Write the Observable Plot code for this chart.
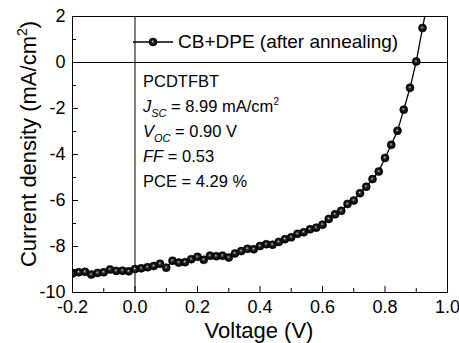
<!DOCTYPE html>
<html><head><meta charset="utf-8">
<script src="https://cdn.jsdelivr.net/npm/d3@7"></script>
<script src="https://cdn.jsdelivr.net/npm/@observablehq/plot@0.6"></script>
<style>body{margin:0;background:#fff;} svg{display:block;}</style>
</head><body><div id="chart"></div>
<script>
const voltage = [-0.20,-0.18,-0.16,-0.14,-0.12,-0.10,-0.08,-0.06,-0.04,-0.02,
  0.00,0.02,0.04,0.06,0.08,0.10,0.12,0.14,0.16,0.18,
  0.20,0.22,0.24,0.26,0.28,0.30,0.32,0.34,0.36,0.38,
  0.40,0.42,0.44,0.46,0.48,0.50,0.52,0.54,0.56,0.58,
  0.60,0.62,0.64,0.66,0.68,0.70,0.72,0.74,0.76,0.78,
  0.80,0.82,0.84,0.86,0.88,0.90,0.92,0.94];
const current = [-9.17,-9.12,-9.10,-9.22,-9.15,-9.12,-9.00,-9.06,-9.05,-9.08,
  -8.98,-8.95,-8.90,-8.85,-8.75,-8.92,-8.62,-8.70,-8.68,-8.55,
  -8.45,-8.58,-8.40,-8.42,-8.40,-8.48,-8.30,-8.20,-8.10,-8.12,
  -7.98,-7.90,-7.92,-7.80,-7.68,-7.60,-7.45,-7.38,-7.25,-7.18,
  -7.05,-6.80,-6.60,-6.45,-6.15,-6.00,-5.68,-5.40,-5.07,-4.74,
  -4.15,-3.58,-2.97,-2.05,-1.10,0.04,1.50,2.90];
const xMajor = [-0.2,0.0,0.2,0.4,0.6,0.8,1.0];
const xMinor = [-0.1,0.1,0.3,0.5,0.7,0.9];
const yMajor = [-10,-8,-6,-4,-2,0,2];
const yMinor = [-9,-7,-5,-3,-1,1];
const seriesName = "CB+DPE (after annealing)";
const material = "PCDTFBT";
const jsc = "8.99", voc = "0.90", ff = "0.53", pce = "4.29";

const data = voltage.map((v, i) => ({v, j: current[i]}));
const font = "'Liberation Sans', Arial, Helvetica, sans-serif";

const plot = Plot.plot({
  width: 459, height: 343,
  marginLeft: 72, marginRight: 12, marginTop: 16, marginBottom: 51,
  style: {fontFamily: font, background: "#fff", color: "#000"},
  x: {domain: [-0.2, 1.0], label: null},
  y: {domain: [-10, 2], label: null},
  marks: [
    Plot.ruleX([0], {stroke: "#000", strokeWidth: 1}),
    Plot.ruleY([0], {stroke: "#000", strokeWidth: 1}),
    Plot.ruleX(xMajor, {x: d => d, y1: -10, y2: -10, insetTop: -6, stroke: "#000"}),
    Plot.ruleX(xMinor, {x: d => d, y1: -10, y2: -10, insetTop: -4, stroke: "#000"}),
    Plot.ruleY(yMajor, {y: d => d, x1: -0.2, x2: -0.2, insetRight: -6, stroke: "#000"}),
    Plot.ruleY(yMinor, {y: d => d, x1: -0.2, x2: -0.2, insetRight: -4, stroke: "#000"}),
    Plot.axisX({ticks: xMajor, tickSize: 0, tickPadding: 8, fontSize: 18, tickFormat: d => d.toFixed(1), label: null}),
    Plot.axisY({ticks: yMajor, tickSize: 0, tickPadding: 7, fontSize: 18, tickFormat: d => String(d), label: null}),
    Plot.line(data, {x: "v", y: "j", stroke: "#000", strokeWidth: 1.3, clip: true}),
    Plot.dot(data, {x: "v", y: "j", r: 4, fill: "url(#ball)", stroke: "#000", strokeWidth: 0.6, clip: true}),
    Plot.frame({stroke: "#000", strokeWidth: 1})
  ]
});
document.getElementById("chart").appendChild(plot);

const svg = d3.select(plot);
const defs = svg.insert("defs", ":first-child");
const g = defs.append("radialGradient").attr("id", "ball")
  .attr("cx", "50%").attr("cy", "50%").attr("r", "50%").attr("fx", "45%").attr("fy", "42%");
g.append("stop").attr("offset", "0%").attr("stop-color", "#f0f0f0");
g.append("stop").attr("offset", "12%").attr("stop-color", "#8a8a8a");
g.append("stop").attr("offset", "38%").attr("stop-color", "#222222");
g.append("stop").attr("offset", "100%").attr("stop-color", "#000000");

const ov = svg.append("g").attr("font-family", font).attr("fill", "#000").attr("text-anchor", "start");

// legend
ov.append("line").attr("x1", 133).attr("x2", 173).attr("y1", 42).attr("y2", 42)
  .attr("stroke", "#000").attr("stroke-width", 1.3);
ov.append("circle").attr("cx", 153).attr("cy", 42).attr("r", 4)
  .attr("fill", "url(#ball)").attr("stroke", "#000").attr("stroke-width", 0.6);
ov.append("text").attr("x", 178).attr("y", 47.5).attr("font-size", 19).text(seriesName);

// annotation
const ax = 143, fs = 16.5;
ov.append("text").attr("x", ax).attr("y", 87.3).attr("font-size", fs).text(material);
let t = ov.append("text").attr("x", ax).attr("y", 112.2).attr("font-size", fs);
t.append("tspan").attr("font-style", "italic").text("J");
t.append("tspan").attr("font-style", "italic").attr("font-size", 11).attr("dy", 5).text("SC");
t.append("tspan").attr("dy", -5).text(" = " + jsc + " mA/cm");
t.append("tspan").attr("font-size", 10).attr("dy", -7).text("2");
t = ov.append("text").attr("x", ax).attr("y", 137).attr("font-size", fs);
t.append("tspan").attr("font-style", "italic").text("V");
t.append("tspan").attr("font-style", "italic").attr("font-size", 11).attr("dy", 5).text("OC");
t.append("tspan").attr("dy", -5).text(" = " + voc + " V");
t = ov.append("text").attr("x", ax).attr("y", 161.8).attr("font-size", fs);
t.append("tspan").attr("font-style", "italic").text("FF");
t.append("tspan").text(" = " + ff);
ov.append("text").attr("x", ax).attr("y", 186.7).attr("font-size", fs).text("PCE = " + pce + " %");

// axis titles
ov.append("text").attr("x", 259).attr("y", 338).attr("font-size", 22)
  .attr("text-anchor", "middle").text("Voltage (V)");
t = ov.append("text").attr("transform", "translate(36,144) rotate(-90)")
  .attr("font-size", 22).attr("text-anchor", "middle");
t.append("tspan").text("Current density (mA/cm");
t.append("tspan").attr("font-size", 14).attr("dy", -9).text("2");
t.append("tspan").attr("dy", 9).text(")");
</script>
</body></html>
